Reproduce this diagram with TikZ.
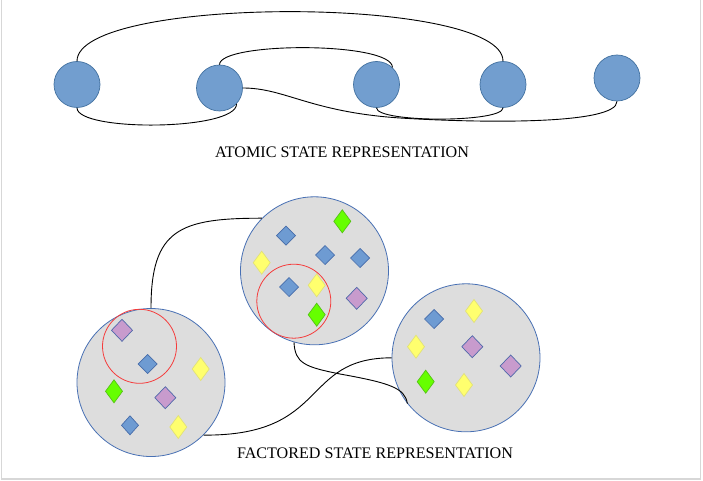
\documentclass[tikz,border=0pt]{standalone}
\usepackage{fontspec}
\setmainfont{Liberation Serif}
\definecolor{nodeblue}{RGB}{114,158,207}
\definecolor{nodeedge}{RGB}{66,113,160}
\definecolor{biggray}{RGB}{221,221,221}
\definecolor{bigedge}{RGB}{72,112,180}
\definecolor{redring}{RGB}{245,60,60}
\definecolor{dblue}{RGB}{110,155,210}
\definecolor{dblueedge}{RGB}{70,108,170}
\definecolor{dyellow}{RGB}{255,255,110}
\definecolor{dyellowedge}{RGB}{225,225,120}
\definecolor{dgreen}{RGB}{102,255,0}
\definecolor{dgreenedge}{RGB}{85,195,20}
\definecolor{dpurple}{RGB}{200,155,205}
\definecolor{dpurpleedge}{RGB}{80,105,170}
\definecolor{framegray}{RGB}{215,215,215}
\tikzset{
  atom/.style={circle,fill=nodeblue,draw=nodeedge,line width=0.7pt,inner sep=0pt,minimum size=46pt},
  bigstate/.style={circle,fill=biggray,draw=bigedge,line width=0.8pt,inner sep=0pt,minimum size=148pt},
  ring/.style={circle,draw=redring,line width=0.8pt,inner sep=0pt,minimum size=74pt},
  link/.style={draw=black,line width=0.9pt},
  bdia/.style={fill=dblue,draw=dblueedge,line width=0.7pt},
  ydia/.style={fill=dyellow,draw=dyellowedge,line width=0.7pt},
  gdia/.style={fill=dgreen,draw=dgreenedge,line width=0.7pt},
  pdia/.style={fill=dpurple,draw=dpurpleedge,line width=0.7pt},
  caption/.style={font=\fontsize{16.1}{19}\selectfont,inner sep=0pt}
}
\newcommand\mydia[5]{\path[#1] ({#2-#4/2},#3) -- (#2,{#3-#5/2}) -- ({#2+#4/2},#3) -- (#2,{#3+#5/2}) -- cycle;}
\newcommand\bd[2]{\mydia{bdia}{#1}{#2}{19}{19}}
\newcommand\yd[2]{\mydia{ydia}{#1}{#2}{17}{23}}
\newcommand\gd[2]{\mydia{gdia}{#1}{#2}{17}{23}}
\newcommand\pd[2]{\mydia{pdia}{#1}{#2}{21}{22}}
\begin{document}
\begin{tikzpicture}[x=1pt,y=-1pt]
\useasboundingbox (0,0) rectangle (703,481);
\fill[white] (0,0) rectangle (703,481);
\draw[framegray,line width=1.2pt] (1.5,0) -- (1.5,479) -- (700.5,479) -- (700.5,0);

% ---------- atomic ----------
\node[atom] (c1) at (77,84.5) {};
\node[atom] (c2) at (219.5,88) {};
\node[atom] (c3) at (376.5,84.5) {};
\node[atom] (c4) at (503,84.5) {};
\node[atom] (c5) at (617,78) {};

\draw[link] (c1.north) .. controls +(0,-66) and +(0,-66) .. (c4.north);
\draw[link] (c2.north) .. controls +(0,-23) and +(0,-26) .. (c3.47);
\draw[link] (c1.south) .. controls +(0,24) and +(0,27) .. (c2.-43);
\draw[link] (c2.east) .. controls (285,88) and (310,112) .. (400,118)
                      .. controls (480,123) and (617,125) .. (c5.south);
\draw[link] (c3.south) .. controls +(0,15) and +(0,15) .. (c4.south);

\node[caption] (t1) at (342,152) {ATOMIC STATE REPRESENTATION};

% ---------- factored ----------
\node[bigstate] (L) at (151,382.5) {};
\node[bigstate] (M) at (314.5,270.8) {};
\node[bigstate] (R) at (466,357.8) {};

\draw[link] (L.north) .. controls +(0,-79) and +(-82,0) .. (M.135);
\draw[link] (M.254) .. controls +(1,21) and (305,367) .. (340,374)
                    .. controls (390,383) and (405,388) .. (R.218);
\draw[link] (L.-45) .. controls (330,436) and (300,358) .. (R.west);

% left circle diamonds
\pd{122}{330.3}
\bd{147.7}{364}
\yd{200.7}{369}
\gd{114}{391.3}
\pd{165.3}{397.7}
\mydia{bdia}{130}{425.3}{17}{19}
\yd{178.3}{427}

% middle circle diamonds
\gd{342.3}{221.3}
\bd{286}{235.7}
\yd{261.7}{262.7}
\bd{325}{255}
\bd{360}{258}
\bd{289}{287}
\yd{316.7}{285.3}
\pd{356.7}{298.3}
\gd{316.7}{314.7}

% right circle diamonds
\bd{434}{319}
\yd{474}{311}
\yd{416}{346.7}
\pd{472.3}{346.7}
\pd{510.7}{366}
\gd{425.7}{381.7}
\yd{464}{385}

\node[ring] (r1) at (139.5,346.3) {};
\node[ring] (r2) at (293.8,301.2) {};

\node[caption] (t2) at (375,453) {FACTORED STATE REPRESENTATION};
\end{tikzpicture}
\end{document}
